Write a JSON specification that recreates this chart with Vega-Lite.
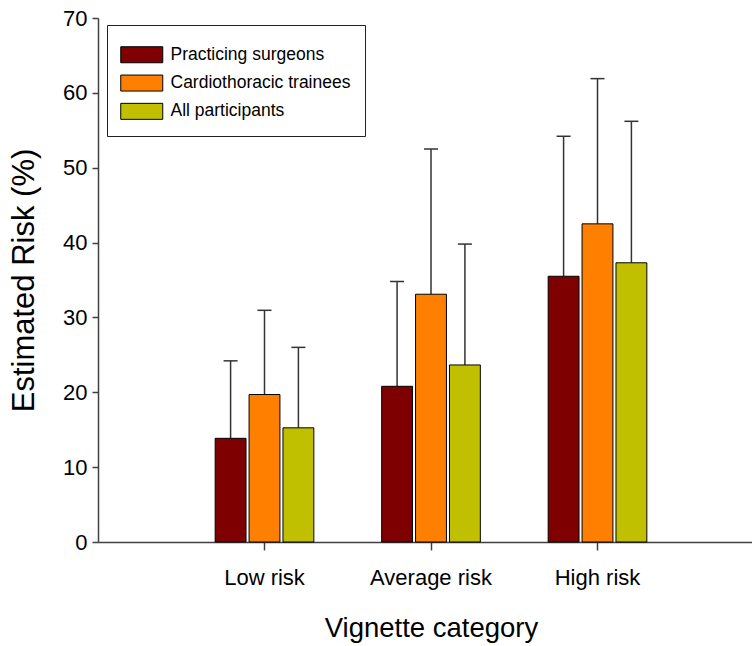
{
  "$schema": "https://vega.github.io/schema/vega-lite/v6.json",
  "width": 654,
  "height": 524,
  "autosize": {"type": "none"},
  "padding": {"left": 98, "top": 18, "right": 0, "bottom": 104},
  "background": "white",
  "config": {"font": "Liberation Sans", "view": {"stroke": null}},
  "data": {"values": [
    {"category": "Low risk", "group": "Practicing surgeons", "mean": 13.85, "upper": 24.2},
    {"category": "Low risk", "group": "Cardiothoracic trainees", "mean": 19.7, "upper": 30.95},
    {"category": "Low risk", "group": "All participants", "mean": 15.25, "upper": 26.0},
    {"category": "Average risk", "group": "Practicing surgeons", "mean": 20.8, "upper": 34.8},
    {"category": "Average risk", "group": "Cardiothoracic trainees", "mean": 33.1, "upper": 52.5},
    {"category": "Average risk", "group": "All participants", "mean": 23.65, "upper": 39.8},
    {"category": "High risk", "group": "Practicing surgeons", "mean": 35.5, "upper": 54.2},
    {"category": "High risk", "group": "Cardiothoracic trainees", "mean": 42.5, "upper": 61.9},
    {"category": "High risk", "group": "All participants", "mean": 37.3, "upper": 56.2}
  ]},
  "encoding": {
    "x": {
      "field": "category", "type": "nominal",
      "sort": ["Low risk", "Average risk", "High risk"],
      "scale": {"range": [0, 666], "paddingInner": 0, "paddingOuter": 0.5},
      "axis": {
        "title": "Vignette category", "titleFontSize": 27.5, "titleFontWeight": "normal", "titleColor": "black", "titlePadding": 26,
        "labelAngle": 0, "labelFontSize": 22, "labelColor": "black", "labelPadding": 17,
        "tickSize": 8, "tickColor": "#404040", "domainColor": "#404040", "domainWidth": 1.5, "tickWidth": 1.5
      }
    },
    "xOffset": {
      "field": "group", "type": "nominal",
      "sort": ["Practicing surgeons", "Cardiothoracic trainees", "All participants"],
      "scale": {"paddingInner": 0.09, "paddingOuter": 1.07}
    }
  },
  "layer": [
    {
      "mark": {"type": "rule", "color": "#333333", "strokeWidth": 1.5},
      "encoding": {
        "y": {"field": "mean", "type": "quantitative", "scale": {"domain": [0, 70]}, "title": "Estimated Risk (%)"},
        "y2": {"field": "upper"}
      }
    },
    {
      "mark": {"type": "tick", "color": "#333333", "size": 14, "thickness": 1.5, "opacity": 1},
      "encoding": {
        "y": {"field": "upper", "type": "quantitative", "scale": {"domain": [0, 70]}, "title": "Estimated Risk (%)"}
      }
    },
    {
      "mark": {"type": "bar", "stroke": "black", "strokeWidth": 1},
      "encoding": {
        "y": {
          "field": "mean", "type": "quantitative", "scale": {"domain": [0, 70]},
          "title": "Estimated Risk (%)",
          "axis": {
            "values": [0, 10, 20, 30, 40, 50, 60, 70], "grid": false,
            "titleFontSize": 31, "titleFontWeight": "normal", "titleColor": "black", "titlePadding": 22,
            "labelFontSize": 22, "labelColor": "black", "labelPadding": 5,
            "tickSize": 6, "tickColor": "#404040", "domainColor": "#404040", "domainWidth": 1.5, "tickWidth": 1.5
          }
        },
        "color": {
          "field": "group", "type": "nominal",
          "sort": ["Practicing surgeons", "Cardiothoracic trainees", "All participants"],
          "scale": {"domain": ["Practicing surgeons", "Cardiothoracic trainees", "All participants"], "range": ["#7f0000", "#ff8000", "#c0c000"]},
          "legend": {
            "title": " ", "titleFontSize": 2, "titlePadding": 5,
            "orient": "none", "legendX": 9, "legendY": 7,
            "strokeColor": "#222222", "fillColor": "white", "padding": 14,
            "labelFontSize": 17.5, "labelColor": "black", "labelOffset": 32, "labelLimit": 400,
            "symbolType": "M-1.125,-1H4.125V1H-1.125Z", "symbolSize": 256, "symbolStrokeColor": "black", "symbolStrokeWidth": 1, "symbolOpacity": 1,
            "rowPadding": 7.3
          }
        }
      }
    }
  ]
}
